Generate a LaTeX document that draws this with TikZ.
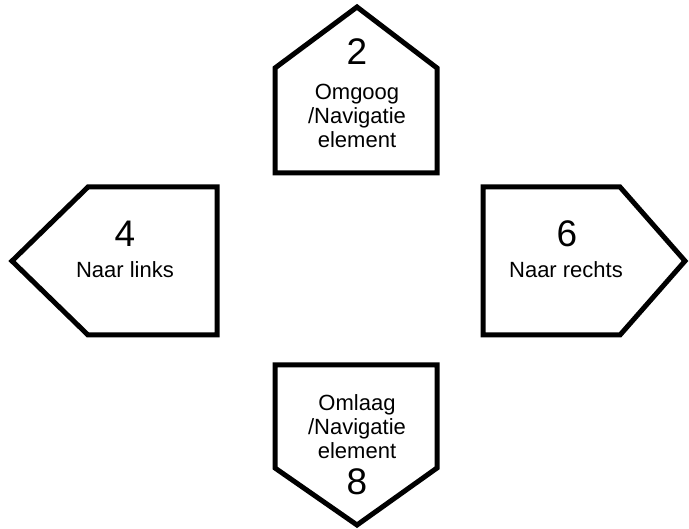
\documentclass[tikz,border=0pt]{standalone}
\usepackage{fontspec}
\setmainfont{Liberation Sans}
\usetikzlibrary{positioning}
\colorlet{keyline}{black}
\tikzset{
  keyshape/.style={draw=keyline, line width=5pt, line join=miter},
  keydigit/.style={font=\fontsize{37}{40}\selectfont, inner sep=0pt, anchor=base},
  keytext/.style={font=\fontsize{22}{24}\selectfont, align=center, inner sep=0pt, anchor=base},
}
\begin{document}
\begin{tikzpicture}[x=1pt,y=-1pt]
\useasboundingbox (0,0) rectangle (689,529);
% up key
\draw[keyshape] (275,68) -- (357,7) -- (437,68) -- (437,173) -- (275,173) -- cycle;
\node[keydigit] (up-digit) at (357,65) {2};
\node[keytext] (up-text) at (357,148) {Omgoog\\/Navigatie\\element};
% left key
\draw[keyshape] (217,187) -- (88,187) -- (12,261) -- (88,335) -- (217,335) -- cycle;
\node[keydigit] (left-digit) at (125,247) {4};
\node[keytext] (left-text) at (125,278) {Naar links};
% right key
\draw[keyshape] (483,187) -- (620,187) -- (685,261) -- (620,335) -- (483,335) -- cycle;
\node[keydigit] (right-digit) at (567,247) {6};
\node[keytext] (right-text) at (566,278) {Naar rechts};
% down key
\draw[keyshape] (275,365) -- (437,365) -- (437,468) -- (357,525) -- (275,468) -- cycle;
\node[keytext] (down-text) at (357,459) {Omlaag\\/Navigatie\\element};
\node[keydigit] (down-digit) at (357,495) {8};
\end{tikzpicture}
\end{document}
